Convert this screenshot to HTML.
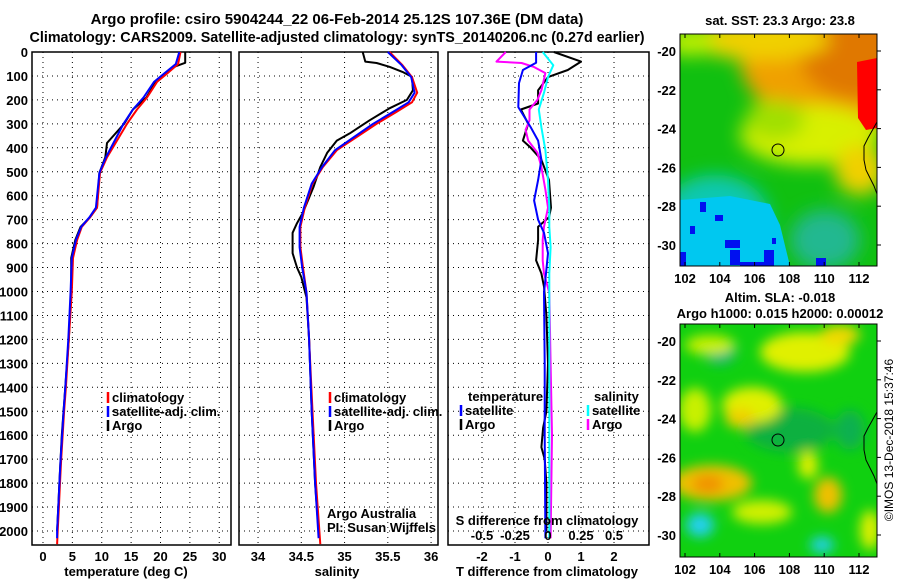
<!DOCTYPE html>
<html><head><meta charset="utf-8"><style>
body{margin:0;background:#fff;}
svg{display:block;font-family:"Liberation Sans",sans-serif;}
.b{font-weight:bold;font-size:13px;}
</style></head><body>
<svg id="c" width="900" height="580" viewBox="0 0 900 580">
<defs>
<filter id="bl" x="-50%" y="-50%" width="200%" height="200%"><feGaussianBlur stdDeviation="6"/></filter>
<filter id="bl2" x="-50%" y="-50%" width="200%" height="200%"><feGaussianBlur stdDeviation="9"/></filter>
<clipPath id="m1"><rect x="680" y="34" width="197" height="232"/></clipPath>
<clipPath id="m2"><rect x="680" y="324" width="197" height="233"/></clipPath>
</defs>
<text x="337" y="24" text-anchor="middle" font-size="15" font-weight="bold">Argo profile: csiro 5904244_22 06-Feb-2014 25.12S 107.36E (DM data)</text>
<text x="337" y="42" text-anchor="middle" font-size="15" font-weight="bold" textLength="615" lengthAdjust="spacingAndGlyphs">Climatology: CARS2009. Satellite-adjusted climatology: synTS_20140206.nc (0.27d earlier)</text>
<g id="layer"></g>
<!-- SST map -->
<g>
<g clip-path="url(#m1)">
<rect x="680" y="34" width="197" height="232" fill="#10c010"/>
<g filter="url(#bl2)">
<ellipse cx="850" cy="60" rx="110" ry="70" fill="#f0a000"/>
<ellipse cx="860" cy="55" rx="60" ry="45" fill="#e07800"/>
<ellipse cx="760" cy="40" rx="70" ry="20" fill="#f0d000"/>
<ellipse cx="690" cy="42" rx="25" ry="14" fill="#c0f000"/>
<ellipse cx="810" cy="135" rx="70" ry="30" fill="#d8f000"/>
<ellipse cx="860" cy="170" rx="25" ry="25" fill="#f0d000"/>
<ellipse cx="775" cy="120" rx="30" ry="20" fill="#a0e000"/>
<ellipse cx="715" cy="220" rx="55" ry="45" fill="#10c8b0"/>
<ellipse cx="825" cy="240" rx="35" ry="30" fill="#20b890"/>
</g>
<path d="M680,200 L730,196 L770,204 L780,225 L790,266 L680,266 Z" fill="#00c8f0"/>
<path d="M857,62 L877,58 L877,128 L866,130 L858,118 Z" fill="#ff0000"/>
<path d="M700,202h6v10h-6z M715,215h8v6h-8z M725,240h15v8h-15z M730,250h10v15h-10z M740,262h25v4h-25z M764,250h10v16h-10z M772,238h4v6h-4z M816,258h10v8h-10z M680,252h6v14h-6z M690,226h5v8h-5z" fill="#0010f0"/>
<circle cx="778" cy="150" r="6" fill="none" stroke="#000" stroke-width="1"/>
<path d="M877,122 L868,138 L864,146 L864,160 L866,170 L870,178 L874,186 L877,194" fill="none" stroke="#000" stroke-width="1"/>
</g>
<rect x="680" y="34" width="197" height="232" fill="none" stroke="#000" stroke-width="1"/>
</g>
<text x="780" y="25" text-anchor="middle" class="b">sat. SST: 23.3 Argo: 23.8</text>
<!-- SLA map -->
<g>
<g clip-path="url(#m2)">
<rect x="680" y="324" width="197" height="233" fill="#10d010"/>
<g filter="url(#bl)">
<ellipse cx="790" cy="430" rx="45" ry="22" fill="#10b040"/>
<ellipse cx="720" cy="350" rx="16" ry="14" fill="#10b090"/>
<ellipse cx="850" cy="430" rx="15" ry="20" fill="#10b050"/>
<ellipse cx="710" cy="345" rx="25" ry="10" fill="#c8f000"/>
<ellipse cx="805" cy="352" rx="45" ry="20" fill="#e0f000"/>
<ellipse cx="840" cy="335" rx="20" ry="10" fill="#f0d800"/>
<ellipse cx="752" cy="405" rx="30" ry="18" fill="#e0f000"/>
<ellipse cx="740" cy="418" rx="15" ry="10" fill="#f0d000"/>
<ellipse cx="695" cy="410" rx="16" ry="22" fill="#c8f000"/>
<ellipse cx="712" cy="483" rx="40" ry="18" fill="#f0c000"/>
<ellipse cx="708" cy="484" rx="16" ry="9" fill="#f09000"/>
<ellipse cx="762" cy="512" rx="30" ry="12" fill="#d0f000"/>
<ellipse cx="828" cy="495" rx="14" ry="18" fill="#f0c000"/>
<ellipse cx="808" cy="465" rx="10" ry="14" fill="#e0f000"/>
<ellipse cx="870" cy="530" rx="10" ry="20" fill="#e0f000"/>
<ellipse cx="700" cy="525" rx="14" ry="12" fill="#20d0f0"/>
<ellipse cx="822" cy="545" rx="12" ry="8" fill="#20d0f0"/>
</g>
<circle cx="778" cy="440" r="6" fill="none" stroke="#000" stroke-width="1"/>
<path d="M877,412 L868,428 L864,436 L864,450 L866,460 L870,468 L874,476 L877,484" fill="none" stroke="#000" stroke-width="1"/>
</g>
<rect x="680" y="324" width="197" height="233" fill="none" stroke="#000" stroke-width="1"/>
</g>
<text x="780" y="302" text-anchor="middle" class="b">Altim. SLA: -0.018</text>
<text x="780" y="318" text-anchor="middle" class="b">Argo h1000: 0.015 h2000: 0.00012</text>
<text transform="translate(893,440) rotate(-90)" text-anchor="middle" font-size="12">©IMOS 13-Dec-2018 15:37:46</text>
</svg>
<script>
// ---- data ----
const depthTicks=[0,100,200,300,400,500,600,700,800,900,1000,1100,1200,1300,1400,1500,1600,1700,1800,1900,2000];
const tempTicks=[0,5,10,15,20,25,30];
const salTicks=[34,34.5,35,35.5,36];
const tdiffTicks=[-2,-1,0,1,2];
const sdiffTicks=["-0.5","-0.25","0","0.25","0.5"];
const sdiffVals=[-0.5,-0.25,0,0.25,0.5];
const lonTicks=[102,104,106,108,110,112];
const latTicks=[-20,-22,-24,-26,-28,-30];

const tClimD=[0,50,90,125,190,240,300,370,440,505,650,690,730,785,860,1000,1200,1400,1500,1700,1800,1900,2000,2055];
const tClimV=[23.4,23.0,21.1,19.4,17.7,16.0,14.3,12.6,10.9,9.7,9.2,8.0,6.6,5.8,5.1,4.9,4.4,3.9,3.6,3.1,2.9,2.7,2.5,2.4];
const tSatD=[0,50,90,125,190,240,300,370,440,505,650,690,730,785,860,1000,1200,1400,1500,1700,1800,1900,2000,2030];
const tSatV=[23.2,22.6,20.6,18.9,17.1,15.3,13.7,12.2,10.7,9.6,9.0,7.9,6.5,5.6,4.9,4.7,4.3,3.8,3.5,3.0,2.8,2.6,2.4,2.4];
const tArgoD=[0,45,60,90,125,190,240,300,380,440,505,650,690,730,785,860,1000,1200,1400,1600,1700,1800,1900,2000];
const tArgoV=[24.2,24.2,22.5,20.8,19.2,17.6,15.3,13.8,10.9,10.6,9.6,9.2,8.0,6.4,5.5,4.8,4.8,4.4,3.8,3.2,3.0,2.8,2.6,2.4];

const sClimD=[0,55,105,170,210,250,300,355,410,480,550,650,730,815,900,1005,1200,1500,1800,2055];
const sClimV=[35.52,35.67,35.78,35.84,35.78,35.60,35.37,35.14,34.91,34.75,34.63,34.54,34.49,34.49,34.52,34.56,34.59,34.63,34.67,34.72];
const sSatD=[0,55,105,170,210,250,300,355,410,480,550,650,730,815,900,1005,1200,1500,1800,2030];
const sSatV=[35.5,35.66,35.77,35.81,35.74,35.56,35.33,35.11,34.89,34.74,34.62,34.53,34.48,34.48,34.51,34.56,34.59,34.62,34.66,34.70];
const sArgoD=[0,40,46,62,83,104,160,200,235,285,340,370,420,480,565,670,715,755,840,900,940,1025,1200,1500,1800,2000];
const sArgoV=[35.21,35.24,35.37,35.52,35.67,35.78,35.79,35.72,35.52,35.29,35.06,34.91,34.80,34.72,34.64,34.52,34.45,34.40,34.40,34.45,34.50,34.56,34.59,34.62,34.66,34.70];

const dTArgoD=[0,40,75,105,160,215,240,300,370,400,450,535,650,690,730,785,870,925,980,1100,1300,1500,1570,1650,1700,1800,2000];
const dTArgoV=[0.18,1.0,0.6,0.0,-0.3,-0.3,-0.82,-0.6,-0.76,-0.52,-0.2,0.03,0.09,0.03,-0.3,-0.3,-0.36,-0.2,-0.12,-0.05,0.0,-0.05,-0.15,-0.2,-0.1,-0.05,-0.05];
const dTSatD=[0,45,75,130,230,315,370,450,535,620,700,755,840,925,1005,1300,1600,2030];
const dTSatV=[-0.36,-0.36,-0.76,-0.88,-0.9,-0.52,-0.3,-0.2,-0.3,-0.42,-0.3,-0.12,0.0,-0.06,-0.12,-0.1,-0.1,-0.08];
const dSArgoD=[0,40,46,62,88,160,200,240,285,325,370,420,480,575,650,730,785,870,925,1005,1300,1600,2030];
const dSArgoV=[-0.32,-0.39,-0.2,-0.11,-0.02,-0.05,-0.08,-0.14,-0.14,-0.17,-0.15,-0.08,-0.05,-0.02,0.0,-0.03,-0.04,-0.04,-0.03,0.01,0.02,0.03,0.02];
const dSSatD=[0,55,105,170,240,315,410,535,650,730,815,925,1300,1600,2030];
const dSSatV=[-0.04,0.04,0.0,-0.03,-0.07,-0.05,-0.02,0.0,0.01,0.01,0.02,0.01,0.01,0.01,0.01];

// ---- axes ----
const NS="http://www.w3.org/2000/svg";
const layer=document.getElementById('layer');
const TOP=52,BOT=545;
const yD=d=>TOP+d*0.2395;
const panels=[
 {x0:32,x1:231,vmin:-1.87,vmax:32,name:'temperature-panel'},
 {x0:239,x1:438,vmin:33.78,vmax:36.08,name:'salinity-panel'},
 {x0:448,x1:649,vmin:-3.03,vmax:3.06,name:'tdiff-panel'}
];
function xf(p){return v=>p.x0+(v-p.vmin)/(p.vmax-p.vmin)*(p.x1-p.x0);}
const xT=xf(panels[0]),xS=xf(panels[1]),xDT=xf(panels[2]);
const xDS=v=>xDT(0)+v*(xDT(2)-xDT(0))/0.5;
function el(tag,attrs,parent){const e=document.createElementNS(NS,tag);for(const k in attrs)e.setAttribute(k,attrs[k]);(parent||layer).appendChild(e);return e;}
function txt(x,y,s,anchor,cls,parent){const t=el('text',{x:x,y:y,'text-anchor':anchor||'start','class':cls||'b'},parent);t.textContent=s;return t;}

function drawPanel(p,ticks,labels,xs){
  const g=el('g',{});
  
  
  depthTicks.forEach(d=>{
    const l=el('line',{x1:p.x0,x2:p.x1,y1:yD(d),y2:yD(d),stroke:'#000','stroke-width':1,'stroke-dasharray':'1,4'},g);
    
    
  });
  ticks.forEach((v,i)=>{
    const x=xs(v);
    const l=el('line',{x1:x,x2:x,y1:TOP,y2:BOT,stroke:'#000','stroke-width':1,'stroke-dasharray':'1,4'},g);
    
    
    if(labels){const t=txt(x,561,labels[i],'middle','b',g);
      
      }
  });
  const r=el('rect',{x:p.x0,y:TOP,width:p.x1-p.x0,height:BOT-TOP,fill:'none',stroke:'#000','stroke-width':1.5},g);
  
  
  return g;
}
drawPanel(panels[0],tempTicks,tempTicks.map(String),xT);
drawPanel(panels[1],salTicks,salTicks.map(String),xS);
drawPanel(panels[2],tdiffTicks,tdiffTicks.map(String),xDT);

depthTicks.forEach(d=>{const t=txt(28,yD(d)+5,String(d),'end');
  
  });

function series(ds,vs,xs,color,name,w){
  const pts=ds.map((d,i)=>xs(vs[i]).toFixed(1)+','+yD(d).toFixed(1)).join(' L');
  const p=el('path',{d:'M'+pts,fill:'none',stroke:color,'stroke-width':w||2,'stroke-linejoin':'round'});
  
  
}
series(tArgoD,tArgoV,xT,'#000','temp-argo-line');
series(tClimD,tClimV,xT,'#f00','temp-climatology-line');
series(tSatD,tSatV,xT,'#00f','temp-satellite-line');
series(sArgoD,sArgoV,xS,'#000','sal-argo-line');
series(sClimD,sClimV,xS,'#f00','sal-climatology-line');
series(sSatD,sSatV,xS,'#00f','sal-satellite-line');
series(dTArgoD,dTArgoV,xDT,'#000','tdiff-argo-line');
series(dSArgoD,dSArgoV,xDS,'#f0f','sdiff-argo-line');
series(dTSatD,dTSatV,xDT,'#00f','tdiff-satellite-line');
series(dSSatD,dSSatV,xDS,'#0ff','sdiff-satellite-line');

sdiffVals.forEach((v,i)=>{const t=txt(xDS(v),540,sdiffTicks[i],'middle');
  
  });
[[126,'temperature (deg C)','temperature-axis-title'],[337,'salinity','salinity-axis-title'],[547,'T difference from climatology','tdiff-axis-title']].forEach(a=>{
  const t=txt(a[0],576,a[1],'middle');
  
  });
const sdt=txt(547,525,'S difference from climatology','middle');



function legend(x,y,color,label,name){
  const g=el('g',{});
  
  
  el('line',{x1:x,x2:x,y1:y-10,y2:y+1,stroke:color,'stroke-width':2.5},g);
  txt(x+4,y,label,'start','b',g);
}
legend(108,402,'#f00','climatology','legend-temp-climatology');
legend(108,416,'#00f','satellite-adj. clim.','legend-temp-satellite');
legend(108,430,'#000','Argo','legend-temp-argo');
legend(330,402,'#f00','climatology','legend-sal-climatology');
legend(330,416,'#00f','satellite-adj. clim.','legend-sal-satellite');
legend(330,430,'#000','Argo','legend-sal-argo');
const lt=txt(468,401,'temperature');


const ls=txt(594,401,'salinity');


legend(461,415,'#00f','satellite','legend-tdiff-satellite');
legend(461,429,'#000','Argo','legend-tdiff-argo');
legend(588,415,'#0ff','satellite','legend-sdiff-satellite');
legend(588,429,'#f0f','Argo','legend-sdiff-argo');
const a1=txt(327,518,'Argo Australia','start','');a1.setAttribute('font-size','12');


const a2=txt(327,532,'PI: Susan Wijffels','start','');a2.setAttribute('font-size','12');



const svg=document.getElementById('c');
const lonX=v=>685+(v-102)*17.4;
function mapAxes(y0,y1,latY){
  lonTicks.forEach(v=>{
    el('line',{x1:lonX(v),x2:lonX(v),y1:y1,y2:y1-4,stroke:'#000'},svg);
    el('line',{x1:lonX(v),x2:lonX(v),y1:y0,y2:y0+4,stroke:'#000'},svg);
    const t=txt(lonX(v),y1+17,String(v),'middle','b',svg);
    
    
  });
  latTicks.forEach(v=>{
    const y=latY(v);
    el('line',{x1:877,x2:881,y1:y,y2:y,stroke:'#000'},svg);
    const t=txt(676,y+5,String(v),'end','b',svg);
    
    
  });
}
mapAxes(34,266,v=>51+(-20-v)*19.4);
mapAxes(324,557,v=>341+(-20-v)*19.4);
</script>
</body></html>
